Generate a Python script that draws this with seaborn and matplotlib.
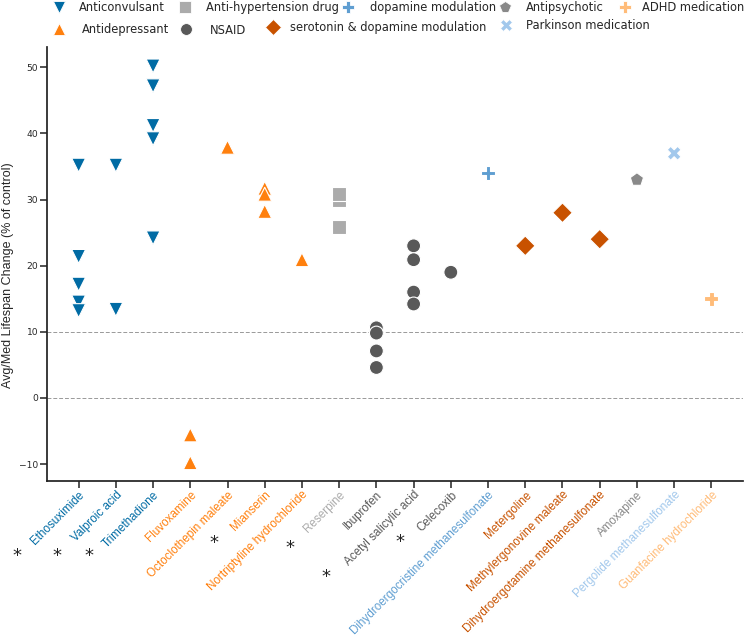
import matplotlib
matplotlib.use("Agg")
import matplotlib.pyplot as plt
from matplotlib.lines import Line2D
import numpy as np
import pandas as pd
import seaborn as sns

# ---------------- data ----------------
compounds = [
    "Ethosuximide", "Valproic acid", "Trimethadione", "Fluvoxamine",
    "Octoclothepin maleate", "Mianserin", "Nortriptyline hydrochloride",
    "Reserpine", "Ibuprofen", "Acetyl salicylic acid", "Celecoxib",
    "Dihydroergocristine methanesulfonate", "Metergoline",
    "Methylergonovine maleate", "Dihydroergotamine methanesulfonate",
    "Amoxapine", "Pergolide methanesulfonate", "Guanfacine hydrochloride",
]
compound_class = [
    "Anticonvulsant", "Anticonvulsant", "Anticonvulsant",
    "Antidepressant", "Antidepressant", "Antidepressant", "Antidepressant",
    "Anti-hypertension drug",
    "NSAID", "NSAID", "NSAID",
    "dopamine modulation",
    "serotonin & dopamine modulation", "serotonin & dopamine modulation",
    "serotonin & dopamine modulation",
    "Antipsychotic", "Parkinson medication", "ADHD medication",
]
lifespan_change = [
    [35.2, 21.4, 17.2, 14.5, 13.2],
    [35.2, 13.4],
    [50.2, 47.2, 41.2, 39.2, 24.2],
    [-5.6, -9.8],
    [37.9],
    [31.7, 30.8, 28.2],
    [20.9],
    [29.9, 30.9, 25.8],
    [10.6, 9.8, 7.1, 4.6],
    [23.0, 20.9, 16.0, 14.2],
    [19.0],
    [34.0],
    [23.0],
    [28.0],
    [24.0],
    [33.0],
    [37.0],
    [15.0],
]
starred = ["Ethosuximide", "Valproic acid", "Trimethadione", "Mianserin",
           "Nortriptyline hydrochloride", "Acetyl salicylic acid", "Celecoxib"]

classes = ["Anticonvulsant", "Antidepressant", "Anti-hypertension drug", "NSAID",
           "dopamine modulation", "serotonin & dopamine modulation",
           "Antipsychotic", "Parkinson medication", "ADHD medication"]
class_colors = ["#006BA4", "#FF800E", "#ABABAB", "#595959", "#5F9ED1",
                "#C85200", "#898989", "#A2C8EC", "#FFBC79"]
class_markers = ["v", "^", "s", "o", "P", "D", "p", "X", "P"]
yticks = [-10, 0, 10, 20, 30, 40, 50]
ref_lines = [10, 0]

# ---------------- layout (pixels) ----------------
W, H = 744, 636
star_offsets = {  # offset (px) of the asterisk from the tick at the axis bottom
    "Ethosuximide": (-61.6, -75),
    "Valproic acid": (-58.8, -75),
    "Trimethadione": (-63.8, -75),
    "Mianserin": (-51.2, -62),
    "Nortriptyline hydrochloride": (-12.4, -67),
    "Acetyl salicylic acid": (-87.4, -96),
    "Celecoxib": (-50.6, -61),
}
# legend entry layout: marker x, text x, y (pixels from top)
legend_pos = [(59.3, 79, 7.5), (59.3, 81.7, 29.5), (185, 205.7, 7.5),
              (185.7, 210, 30), (348.3, 370, 7.5), (273.3, 290, 27.5),
              (505, 526, 7.5), (505.7, 526, 25.5), (625, 641.7, 7.5)]

# ---------------- frame ----------------
rows = []
for comp, cls, vals in zip(compounds, compound_class, lifespan_change):
    for v in vals:
        rows.append({"compound": comp, "value": v, "class": cls})
df = pd.DataFrame(rows)

sns.set_style("ticks")
plt.rcParams["font.family"] = ["DejaVu Sans"]

fig = plt.figure(figsize=(W / 100, H / 100), dpi=100)
ax = fig.add_axes([47 / W, 1 - 481 / H, (743 - 47) / W, (481 - 47) / H])

palette = dict(zip(classes, class_colors))
markers = dict(zip(classes, class_markers))

for y in ref_lines:
    ax.axhline(y, color="#999999", lw=0.7, ls=(0, (4, 2)), zorder=0)

sns.scatterplot(data=df, x="compound", y="value", hue="class", style="class",
                hue_order=classes, style_order=classes, palette=palette,
                markers=markers, s=100, legend=False, ax=ax, zorder=3)

ax.set_xlim(-0.85, len(compounds) - 1 + 0.85)
ax.set_ylim(-12.57, 53.07)
ax.set_yticks(yticks)
ax.set_xlabel("")
ax.set_ylabel("Avg/Med Lifespan Change (% of control)",
              family="Liberation Sans", fontsize=9)
ax.yaxis.set_label_coords(-0.047, 0.475)
sns.despine(ax=ax)
for sp in ["left", "bottom"]:
    ax.spines[sp].set_linewidth(1.25)
    ax.spines[sp].set_color("#222222")
ax.tick_params(axis="both", length=4.7, width=1.1, color="#222222", pad=1.5)
ax.tick_params(axis="x", pad=1.0)
ax.tick_params(axis="y", labelsize=6.6)

ax.set_xticks(range(len(compounds)))
ax.set_xticklabels(compounds, rotation=45, ha="right", rotation_mode="anchor",
                   family="Liberation Sans", fontsize=8.4)
for lab, cls in zip(ax.get_xticklabels(), compound_class):
    lab.set_color(palette[cls])

for comp in starred:
    dx, dy = star_offsets[comp]
    ax.annotate("*", xy=(compounds.index(comp), 0),
                xycoords=("data", "axes fraction"),
                xytext=(dx, dy), textcoords="offset pixels",
                ha="center", va="center", fontsize=13, color="#222222",
                annotation_clip=False)

# ---------------- legend ----------------
fs_pt = 8.3
fs_px = fs_pt * 100 / 72
hl = 1.0
for cls, col, mk, (mx, tx, y) in zip(classes, class_colors, class_markers, legend_pos):
    handle = Line2D([], [], ls="", marker=mk, color=col, markersize=8.5,
                    markeredgecolor="white", markeredgewidth=0.6)
    left = mx - 0.5 * hl * fs_px
    htp = (tx - left - hl * fs_px) / fs_px
    fig.legend(handles=[handle], labels=[cls], loc="center left",
               bbox_to_anchor=(left / W, 1 - y / H), frameon=False,
               borderpad=0, borderaxespad=0, handlelength=hl,
               handletextpad=htp, fontsize=fs_pt)

fig.savefig("out.png", dpi=100)
